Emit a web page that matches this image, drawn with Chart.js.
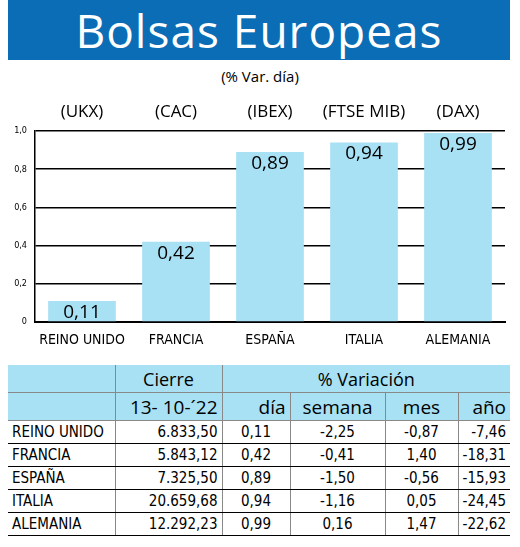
<!DOCTYPE html>
<html><head><meta charset="utf-8">
<script src="https://cdn.jsdelivr.net/npm/chart.js@4/dist/chart.umd.min.js"></script>
<style>
body{margin:0;width:520px;height:547px;background:#fff;position:relative;overflow:hidden;font-family:"Open Sans",sans-serif}
#title{position:absolute;left:8px;top:0;width:502px;height:60px;background:#0b6db5;color:#fff;font:500 46px "Open Sans",sans-serif;text-align:center;line-height:60px;letter-spacing:1px}
#sub{position:absolute;left:0;width:520px;top:66px;text-align:center;font-size:15px}
#wrap{position:absolute;left:0;top:62px;width:520px;height:290px}
table{position:absolute;left:8px;top:365px;width:502px;border-collapse:collapse;table-layout:fixed;font-family:"DejaVu Sans Condensed",sans-serif;font-size:15px}
td{padding:0 4px;height:22px;text-align:right;border-bottom:1px solid #000}
td:first-child{text-align:left}
td+td{border-left:1px solid #888}
tr.h td{background:#a8e0f4;font-family:"Open Sans",sans-serif;font-size:18px;height:27px;border-bottom:1px solid #888;text-align:center}
tr.h2 td{text-align:right;font-size:19px}
</style></head><body>
<div id="title">Bolsas Europeas</div>
<div id="sub">(% Var. día)</div>
<div id="wrap"><canvas id="c"></canvas></div>
<table id="t"><colgroup><col style="width:107px"><col style="width:107px"><col style="width:68px"><col style="width:95px"><col style="width:73px"><col style="width:52px"></colgroup><tbody id="tb"></tbody></table>
<script>
var countries = ['REINO UNIDO','FRANCIA','ESPAÑA','ITALIA','ALEMANIA'];
var tickers = ['(UKX)','(CAC)','(IBEX)','(FTSE MIB)','(DAX)'];
var dayVar = [0.11,0.42,0.89,0.94,0.99];
var closes = ['6.833,50','5.843,12','7.325,50','20.659,68','12.292,23'];
var weekVar = ['-2,25','-0,41','-1,50','-1,16','0,16'];
var monthVar = ['-0,87','1,40','-0,56','0,05','1,47'];
var yearVar = ['-7,46','-18,31','-15,93','-24,45','-22,62'];
var yTicks = [0,0.2,0.4,0.6,0.8,1.0];

function fmt(v){ return v.toFixed(2).replace('.',','); }

var labelPlugin = {
    id:'labels',
    afterDatasetsDraw: function(chart){
        var ctx = chart.ctx;
        var meta = chart.getDatasetMeta(0);
        ctx.save();
        ctx.textAlign='center';
        ctx.fillStyle='#000';
        meta.data.forEach(function(bar,i){
            ctx.font='19px "Open Sans"';
            ctx.textBaseline='top';
            ctx.fillText(fmt(dayVar[i]), bar.x, bar.y+2);
            ctx.font='17px "Open Sans"';
            ctx.textBaseline='alphabetic';
            ctx.fillText(tickers[i], bar.x, chart.chartArea.top-14);
        });
        ctx.restore();
    }
};

new Chart(document.getElementById('c'), {
    type:'bar',
    data:{labels:countries,datasets:[{data:dayVar,backgroundColor:'#a8e0f4',barPercentage:0.72,categoryPercentage:1}]},
    options:{
        responsive:true,maintainAspectRatio:false,animation:false,
        layout:{padding:{top:69,right:15,left:0,bottom:0}},
        plugins:{legend:{display:false},tooltip:{enabled:false}},
        scales:{
            x:{grid:{display:false},border:{color:'#000',width:2},
               ticks:{color:'#000',font:{family:'DejaVu Sans Condensed',size:14},padding:2},
               afterFit:function(s){s.height=30;}},
            y:{min:0,max:1,afterBuildTicks:function(s){s.ticks=yTicks.map(function(v){return {value:v};});},
               grid:{color:'#000',lineWidth:1.5,drawTicks:false},border:{color:'#000',width:1.5},
               ticks:{color:'#000',font:{family:'DejaVu Sans Condensed',size:9},padding:8,
                      callback:function(v){return v===0?'0':v.toFixed(1).replace('.',',');}},
               afterFit:function(s){s.width=35;}}
        }
    },
    plugins:[labelPlugin]
});

var html = '<tr class="h"><td></td><td>Cierre</td><td colspan="4">% Variación</td></tr>';
html += '<tr class="h h2"><td></td><td>13- 10-´22</td><td>día</td><td style="text-align:center">semana</td><td style="text-align:center">mes</td><td>año</td></tr>';
for (var i=0;i<countries.length;i++){
    html += '<tr><td>'+countries[i]+'</td><td>'+closes[i]+'</td><td style="text-align:center">'+fmt(dayVar[i])+'</td><td style="text-align:center">'+weekVar[i]+'</td><td style="text-align:center">'+monthVar[i]+'</td><td>'+yearVar[i]+'</td></tr>';
}
document.getElementById('tb').innerHTML = html;
</script>
</body></html>
